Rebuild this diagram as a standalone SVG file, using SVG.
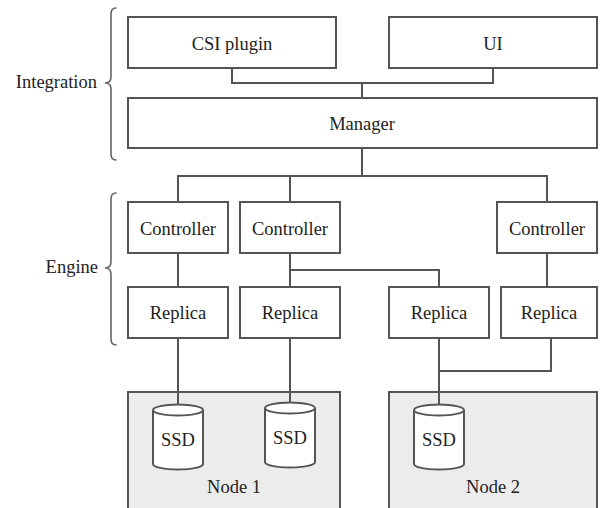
<svg xmlns="http://www.w3.org/2000/svg" width="600" height="508" viewBox="0 0 600 508">
<rect width="600" height="508" fill="#fff"/>
<g id="labels">
<path fill="none" stroke="#666" stroke-width="1.6" stroke-linecap="round" d="M116,8 Q111,8 111,14 L111,77 Q111,83 105,83 Q111,83 111,89 L111,154 Q111,160 116,160"/>
<text text-anchor="end" x="97" y="88" font-family="Liberation Serif" font-size="18.5" fill="#222">Integration</text>
<path fill="none" stroke="#666" stroke-width="1.6" stroke-linecap="round" d="M116,193 Q111,193 111,199 L111,262 Q111,268 105,268 Q111,268 111,274 L111,339 Q111,345 116,345"/>
<text text-anchor="end" x="98" y="273" font-family="Liberation Serif" font-size="18.5" fill="#222">Engine</text>
</g>
<g id="node1"><rect fill="#ececec" stroke="#555" stroke-width="2" x="128" y="392" width="212" height="130"/><text text-anchor="middle" x="234" y="493" font-family="Liberation Serif" font-size="18.5" fill="#222">Node 1</text></g>
<g id="node2"><rect fill="#ececec" stroke="#555" stroke-width="2" x="389" y="392" width="208" height="130"/><text text-anchor="middle" x="493" y="493" font-family="Liberation Serif" font-size="18.5" fill="#222">Node 2</text></g>
<g id="connectors" fill="none" stroke="#555" stroke-width="2">
<path d="M232,68 V83 H493 V68 M362,83 V98"/>
<path d="M362,148 V176 M178,202 V176 H547 V202 M290,176 V202"/>
<path d="M178,253 V287 M290,253 V287 M290,270 H439 V287 M547,253 V287"/>
<path d="M178,338 V405 M290,338 V403 M439,338 V405 M551,338 V371 H439"/>
</g>
<g fill="#fff" stroke="#555" stroke-width="2">
<g id="csi"><rect x="128" y="17" width="208" height="51"/><text text-anchor="middle" x="232" y="49.5" font-family="Liberation Serif" font-size="18.5" fill="#222" stroke="none">CSI plugin</text></g>
<g id="ui"><rect x="389" y="17" width="208" height="51"/><text text-anchor="middle" x="493" y="49.5" font-family="Liberation Serif" font-size="18.5" fill="#222" stroke="none">UI</text></g>
<g id="manager"><rect x="128" y="98" width="469" height="50"/><text text-anchor="middle" x="362" y="130" font-family="Liberation Serif" font-size="18.5" fill="#222" stroke="none">Manager</text></g>
<g id="controller1"><rect x="128" y="202" width="100" height="51"/><text text-anchor="middle" x="178" y="235" font-family="Liberation Serif" font-size="18.5" fill="#222" stroke="none">Controller</text></g>
<g id="controller2"><rect x="240" y="202" width="100" height="51"/><text text-anchor="middle" x="290" y="235" font-family="Liberation Serif" font-size="18.5" fill="#222" stroke="none">Controller</text></g>
<g id="controller3"><rect x="497" y="202" width="100" height="51"/><text text-anchor="middle" x="547" y="235" font-family="Liberation Serif" font-size="18.5" fill="#222" stroke="none">Controller</text></g>
<g id="replica1"><rect x="128" y="287" width="100" height="51"/><text text-anchor="middle" x="178" y="319" font-family="Liberation Serif" font-size="18.5" fill="#222" stroke="none">Replica</text></g>
<g id="replica2"><rect x="240" y="287" width="100" height="51"/><text text-anchor="middle" x="290" y="319" font-family="Liberation Serif" font-size="18.5" fill="#222" stroke="none">Replica</text></g>
<g id="replica3"><rect x="389" y="287" width="100" height="51"/><text text-anchor="middle" x="439" y="319" font-family="Liberation Serif" font-size="18.5" fill="#222" stroke="none">Replica</text></g>
<g id="replica4"><rect x="501" y="287" width="96" height="51"/><text text-anchor="middle" x="549" y="319" font-family="Liberation Serif" font-size="18.5" fill="#222" stroke="none">Replica</text></g>
<g id="ssd1"><path d="M153,410 V464 A25,5.5 0 0 0 203,464 V410 A25,5.5 0 0 0 153,410 A25,5.5 0 0 0 203,410"/><text text-anchor="middle" x="178" y="446" font-family="Liberation Serif" font-size="18.5" fill="#222" stroke="none">SSD</text></g>
<g id="ssd2"><path d="M265,408 V462 A25,5.5 0 0 0 315,462 V408 A25,5.5 0 0 0 265,408 A25,5.5 0 0 0 315,408"/><text text-anchor="middle" x="290" y="444" font-family="Liberation Serif" font-size="18.5" fill="#222" stroke="none">SSD</text></g>
<g id="ssd3"><path d="M414,410 V464 A25,5.5 0 0 0 464,464 V410 A25,5.5 0 0 0 414,410 A25,5.5 0 0 0 464,410"/><text text-anchor="middle" x="439" y="446" font-family="Liberation Serif" font-size="18.5" fill="#222" stroke="none">SSD</text></g>
</g>
</svg>
